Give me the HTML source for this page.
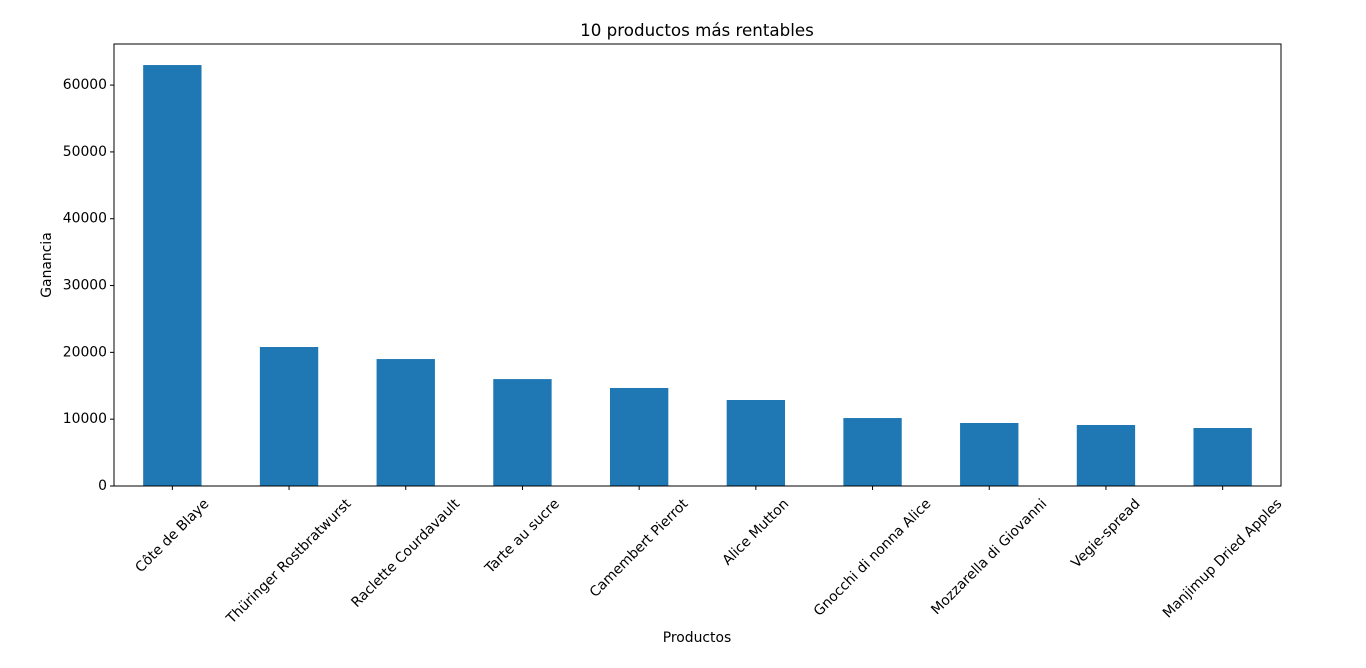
<!DOCTYPE html>
<html><head><meta charset="utf-8"><style>
body{margin:0;background:#fff;}
svg{font-family:"DejaVu Sans","Liberation Sans",sans-serif;}
</style></head><body>
<svg id="chart" width="1366" height="663">
<text x="697" y="36" font-size="16.7" text-anchor="middle">10 productos más rentables</text>
<text x="697" y="642" font-size="13.9" text-anchor="middle">Productos</text>
<text x="0" y="0" font-size="13.9" text-anchor="middle" transform="translate(51,265) rotate(-90)">Ganancia</text>
<g id="bars"></g><g id="yt"></g><g id="xt"></g>
<rect x="114" y="44" width="1167" height="442" fill="none" stroke="#000" stroke-width="1"/>
</svg>
<script>
const categories=["Côte de Blaye","Thüringer Rostbratwurst","Raclette Courdavault","Tarte au sucre","Camembert Pierrot","Alice Mutton","Gnocchi di nonna Alice","Mozzarella di Giovanni","Vegie-spread","Manjimup Dried Apples"];
const profits=[63000,20800,19000,16000,14670,12870,10170,9430,9130,8680];
const yTicks=[0,10000,20000,30000,40000,50000,60000];
const NS="http://www.w3.org/2000/svg";
const L=114,R=1281,T=44,B=486;
const yMax=Math.max(...profits)*1.05;
const y=v=>B-(v/yMax)*(B-T);
const step=(R-L)/categories.length;
const x=i=>L+step*(i+0.5);
function mk(t,a,p){const e=document.createElementNS(NS,t);for(const k in a)e.setAttribute(k,a[k]);p.appendChild(e);return e;}
const bars=document.getElementById('bars'),yt=document.getElementById('yt'),xt=document.getElementById('xt');
profits.forEach((v,i)=>{
 const r=mk('rect',{x:x(i)-step/4,y:y(v),width:step/2,height:B-y(v),fill:'#1f77b4'},bars);
 
 
 const tk=mk('line',{x1:x(i),x2:x(i),y1:B,y2:B+4,stroke:'#000'},xt);
 
 
 const t=mk('text',{'font-size':13.9,'text-anchor':'middle','dominant-baseline':'central'},xt);
 t.textContent=categories[i];
 
 
 const len=t.getComputedTextLength();
 const cy=496+(len+16)*0.7071/2;
 t.setAttribute('transform','translate('+x(i)+','+cy+') rotate(-45)');
});
yTicks.forEach(v=>{
 const tk=mk('line',{x1:L-4,x2:L,y1:y(v),y2:y(v),stroke:'#000'},yt);
 
 
 const t=mk('text',{x:L-7,y:y(v),'font-size':13.9,'text-anchor':'end','dominant-baseline':'central'},yt);
 t.textContent=v;
 
 
});
</script>
</body></html>
